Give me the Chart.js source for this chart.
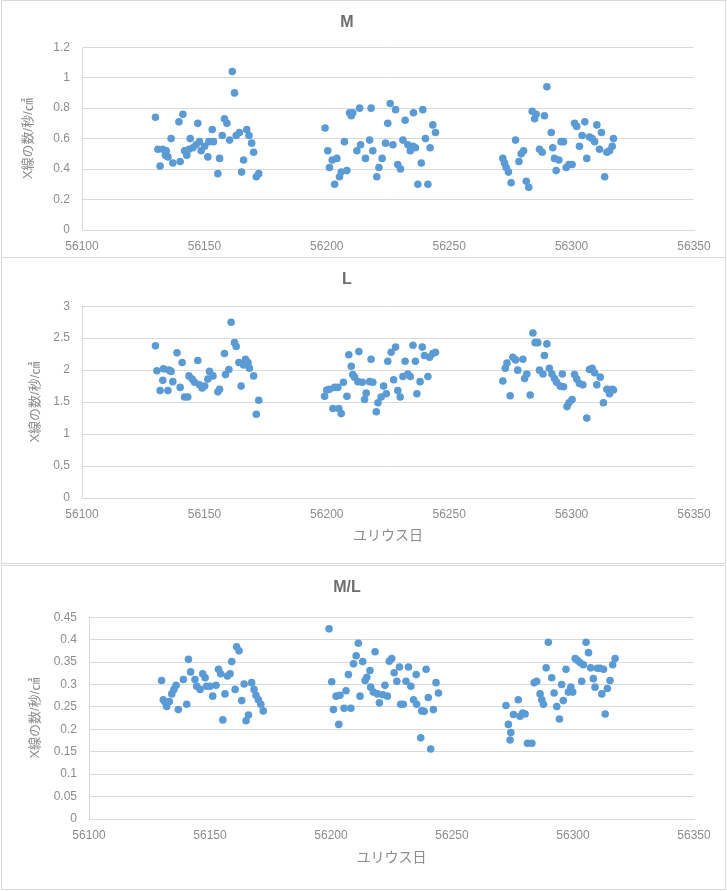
<!DOCTYPE html>
<html>
<head>
<meta charset="utf-8">
<title>M / L / M/L</title>
<script src="https://cdn.jsdelivr.net/npm/chart.js@4.4.0/dist/chart.umd.min.js"></script>
<style>
  body { margin: 0; background: #fff; }
  #page { position: relative; width: 727px; height: 891px; overflow: hidden; }
  .frame { position: absolute; left: 0; width: 727px; }
  .panel { position: absolute; left: 1px; width: 725px; border: 1px solid #d9d9d9; box-sizing: border-box; pointer-events: none; }
</style>
</head>
<body>
<div id="page">
  <div class="frame" style="top:0;height:258px"><canvas id="chartM"></canvas></div>
  <div class="frame" style="top:257px;height:307px"><canvas id="chartL"></canvas></div>
  <div class="frame" style="top:565px;height:325px"><canvas id="chartRatio"></canvas></div>
  <div class="panel" style="top:0;height:258px"></div>
  <div class="panel" style="top:257px;height:307px"></div>
  <div class="panel" style="top:565px;height:325px"></div>
</div>
<script>
// ---- data ----
var xTicks = [56100, 56150, 56200, 56250, 56300, 56350];
var mTicks = [0, 0.2, 0.4, 0.6, 0.8, 1, 1.2];
var lTicks = [0, 0.5, 1, 1.5, 2, 2.5, 3];
var ratioTicks = [0, 0.05, 0.1, 0.15, 0.2, 0.25, 0.3, 0.35, 0.4, 0.45];

var mDays = [
  56130.0, 56131.9, 56131.0, 56133.0, 56134.4, 56134.1, 56135.1, 56136.4, 56137.1, 56139.6, 56140.1,
  56141.2, 56141.9, 56142.8, 56144.2, 56143.7, 56145.3, 56147.3, 56146.6, 56148.0, 56148.7, 56150.1,
  56151.4, 56151.8, 56153.2, 56153.7, 56155.5, 56156.2, 56157.3, 56158.2, 56159.2, 56160.3, 56161.4,
  56162.3, 56163.0, 56164.3, 56165.2, 56166.0, 56167.3, 56168.2, 56169.3, 56170.1, 56171.2, 56172.2,
  56199.3, 56200.4, 56201.1, 56202.2, 56203.2, 56204.1, 56205.2, 56205.9, 56207.2, 56208.2, 56209.3,
  56210.0, 56210.6, 56213.4, 56212.3, 56213.8, 56215.8, 56217.5, 56218.1, 56218.8, 56220.4, 56221.3,
  56222.6, 56224.0, 56224.9, 56225.9, 56227.0, 56228.1, 56229.0, 56230.1, 56231.1, 56232.0, 56233.1,
  56234.1, 56235.2, 56236.2, 56235.4, 56237.2, 56238.6, 56239.2, 56240.3, 56241.3, 56242.2, 56243.3,
  56244.4,
  56271.9, 56272.6, 56273.3, 56274.2, 56275.3, 56277.1, 56278.5, 56279.4, 56280.4, 56281.5, 56282.5,
  56283.9, 56284.9, 56285.5, 56286.9, 56288.0, 56288.9, 56289.9, 56291.7, 56292.3, 56293.0, 56293.7,
  56294.8, 56295.7, 56296.7, 56297.8, 56298.9, 56300.2, 56301.2, 56302.1, 56303.2, 56304.3, 56305.4,
  56306.2, 56307.3, 56308.4, 56309.4, 56310.3, 56311.4, 56312.2, 56313.5, 56314.4, 56315.5, 56316.6,
  56317.1
];
var mValues = [
  0.74, 0.42, 0.53, 0.53, 0.52, 0.49, 0.48, 0.60, 0.44, 0.71, 0.45,
  0.76, 0.52, 0.49, 0.60, 0.53, 0.54, 0.70, 0.56, 0.58, 0.52, 0.55,
  0.48, 0.58, 0.66, 0.58, 0.37, 0.47, 0.62, 0.73, 0.70, 0.59, 1.04,
  0.90, 0.62, 0.64, 0.38, 0.46, 0.66, 0.62, 0.57, 0.51, 0.35, 0.37,
  0.67, 0.52, 0.41, 0.46, 0.30, 0.47, 0.35, 0.38, 0.58, 0.39, 0.77,
  0.75, 0.77, 0.80, 0.52, 0.56, 0.47, 0.59, 0.80, 0.52, 0.35, 0.41,
  0.47, 0.57, 0.70, 0.83, 0.56, 0.79, 0.43, 0.40, 0.59, 0.72, 0.56,
  0.52, 0.55, 0.54, 0.77, 0.30, 0.44, 0.79, 0.60, 0.30, 0.54, 0.69,
  0.64,
  0.47, 0.44, 0.41, 0.38, 0.31, 0.59, 0.45, 0.50, 0.52, 0.32, 0.28,
  0.78, 0.73, 0.76, 0.53, 0.51, 0.75, 0.94, 0.64, 0.54, 0.47, 0.39,
  0.46, 0.58, 0.58, 0.41, 0.43, 0.43, 0.70, 0.68, 0.55, 0.62, 0.71,
  0.47, 0.61, 0.60, 0.58, 0.69, 0.53, 0.64, 0.35, 0.51, 0.52, 0.55,
  0.60
];

var lDays = [
  56130.0, 56130.6, 56131.9, 56133.0, 56133.3, 56135.1, 56135.5, 56136.4, 56137.1, 56138.8, 56140.1,
  56140.9, 56141.9, 56143.2, 56143.7, 56145.0, 56146.0, 56147.3, 56148.0, 56149.1, 56150.1, 56151.4,
  56152.1, 56153.5, 56155.5, 56156.2, 56158.2, 56158.6, 56160.0, 56160.9, 56162.3, 56163.0, 56164.1,
  56165.0, 56166.0, 56166.8, 56167.8, 56168.4, 56170.1, 56171.2, 56172.2,
  56199.1, 56200.0, 56201.1, 56202.5, 56203.2, 56204.5, 56204.9, 56205.9, 56206.8, 56208.2, 56209.0,
  56210.0, 56210.6, 56211.3, 56213.1, 56212.7, 56214.5, 56215.4, 56216.1, 56217.5, 56218.1, 56218.8,
  56220.2, 56220.9, 56222.2, 56223.2, 56224.3, 56224.9, 56226.3, 56227.3, 56228.1, 56229.0, 56230.0,
  56231.1, 56232.0, 56233.1, 56234.1, 56235.2, 56236.2, 56236.8, 56238.1, 56239.0, 56239.9, 56241.3,
  56242.0, 56243.3, 56244.4,
  56271.9, 56272.9, 56273.6, 56274.9, 56276.0, 56277.1, 56278.0, 56280.1, 56280.8, 56281.7, 56283.1,
  56284.2, 56285.1, 56286.2, 56286.9, 56288.3, 56288.9, 56289.9, 56290.9, 56292.0, 56293.0, 56293.9,
  56295.3, 56296.2, 56296.7, 56298.1, 56298.9, 56300.2, 56301.2, 56302.1, 56303.2, 56304.6, 56306.2,
  56307.3, 56308.4, 56309.4, 56310.3, 56311.7, 56313.0, 56314.4, 56315.5, 56316.6, 56317.1
];
var lValues = [
  2.38, 1.99, 1.68, 1.84, 2.02, 1.68, 2.00, 1.98, 1.82, 2.27, 1.73,
  2.12, 1.58, 1.58, 1.91, 1.86, 1.81, 2.15, 1.77, 1.72, 1.75, 1.86,
  1.98, 1.91, 1.66, 1.70, 2.26, 1.93, 2.01, 2.75, 2.43, 2.37, 2.12,
  1.75, 2.08, 2.17, 2.12, 2.03, 1.91, 1.31, 1.53,
  1.59, 1.69, 1.70, 1.40, 1.73, 1.73, 1.40, 1.32, 1.81, 1.59, 2.24,
  2.06, 1.93, 1.89, 2.29, 1.82, 1.81, 1.54, 1.64, 1.82, 2.17, 1.81,
  1.35, 1.49, 1.58, 1.75, 1.63, 2.14, 2.28, 1.85, 2.36, 1.68, 1.58,
  1.90, 2.14, 1.94, 1.90, 2.39, 2.14, 1.63, 1.82, 2.36, 2.23, 1.90,
  2.20, 2.26, 2.28,
  1.83, 2.03, 2.11, 1.60, 2.20, 2.16, 2.00, 2.17, 1.87, 1.94, 1.61,
  2.58, 2.43, 2.43, 2.00, 1.94, 2.23, 2.41, 2.03, 1.94, 1.87, 1.81,
  1.75, 1.94, 1.74, 1.43, 1.49, 1.54, 1.93, 1.86, 1.79, 1.77, 1.25,
  2.01, 2.03, 1.96, 1.77, 1.89, 1.49, 1.70, 1.63, 1.70, 1.69
];

var ratioDays = [
  56130.0, 56130.7, 56131.4, 56132.1, 56133.2, 56134.2, 56135.1, 56136.0, 56136.9, 56139.0, 56140.4,
  56141.1, 56142.0, 56143.8, 56144.5, 56145.9, 56147.0, 56148.0, 56148.6, 56150.0, 56151.1, 56152.5,
  56153.5, 56154.4, 56155.3, 56156.2, 56157.2, 56158.3, 56159.0, 56160.4, 56161.0, 56162.0, 56163.1,
  56164.1, 56164.9, 56165.9, 56167.2, 56168.2, 56169.0, 56170.0, 56171.0, 56172.0,
  56199.2, 56200.3, 56201.0, 56202.1, 56203.2, 56203.7, 56205.4, 56206.2, 56207.2, 56208.2, 56209.3,
  56210.4, 56211.3, 56212.0, 56213.1, 56214.1, 56214.8, 56216.1, 56216.4, 56217.5, 56218.2, 56219.2,
  56220.0, 56221.4, 56222.3, 56223.3, 56224.1, 56225.1, 56226.1, 56227.2, 56228.3, 56228.8, 56229.9,
  56231.0, 56232.0, 56233.0, 56234.1, 56235.2, 56235.4, 56237.1, 56237.5, 56238.5, 56239.3, 56240.2,
  56241.2, 56242.3, 56243.4, 56244.4,
  56272.3, 56273.3, 56274.3, 56274.0, 56275.4, 56277.4, 56278.1, 56279.2, 56280.2, 56281.2, 56283.0,
  56284.0, 56285.0, 56286.4, 56287.1, 56287.8, 56288.9, 56289.8, 56291.2, 56292.2, 56293.3, 56294.4,
  56295.3, 56296.0, 56297.1, 56298.1, 56299.1, 56299.9, 56300.9, 56301.8, 56302.9, 56303.6, 56304.3,
  56305.4, 56306.4, 56307.3, 56308.4, 56309.1, 56310.1, 56311.2, 56311.9, 56312.6, 56313.3, 56314.2,
  56315.3, 56316.4, 56317.4
];
var ratioValues = [
  0.309, 0.266, 0.261, 0.251, 0.262, 0.279, 0.289, 0.298, 0.244, 0.311, 0.256,
  0.356, 0.328, 0.311, 0.296, 0.289, 0.324, 0.315, 0.296, 0.296, 0.274, 0.298,
  0.334, 0.324, 0.221, 0.279, 0.319, 0.324, 0.351, 0.289, 0.384, 0.375, 0.264,
  0.301, 0.219, 0.232, 0.304, 0.289, 0.276, 0.266, 0.256, 0.241,
  0.424, 0.306, 0.244, 0.274, 0.211, 0.276, 0.247, 0.286, 0.322, 0.247, 0.346,
  0.364, 0.392, 0.274, 0.351, 0.309, 0.316, 0.331, 0.294, 0.283, 0.373, 0.279,
  0.259, 0.277, 0.298, 0.274, 0.352, 0.358, 0.326, 0.307, 0.339, 0.256, 0.256,
  0.307, 0.339, 0.296, 0.266, 0.322, 0.256, 0.181, 0.241, 0.240, 0.334, 0.271,
  0.156, 0.244, 0.304, 0.281,
  0.253, 0.211, 0.193, 0.176, 0.233, 0.266, 0.229, 0.236, 0.234, 0.169, 0.169,
  0.304, 0.307, 0.279, 0.266, 0.256, 0.337, 0.394, 0.315, 0.281, 0.251, 0.223,
  0.300, 0.264, 0.334, 0.283, 0.294, 0.283, 0.358, 0.354, 0.349, 0.307, 0.344,
  0.394, 0.371, 0.337, 0.313, 0.294, 0.336, 0.336, 0.279, 0.334, 0.234, 0.291,
  0.309, 0.344, 0.358
];

var X_TITLE = 'ユリウス日';
var Y_TITLE = 'X線の数/秒/㎠';

// ---- drawing ----
var BLUE = '#5b9bd5';
var GRID = '#d9d9d9';
var TEXT = '#8c8c8c';
var TITLE = '#6e6e6e';
Chart.defaults.font.family = "'Liberation Sans', 'Noto Sans CJK JP', sans-serif";

function toPoints(days, values) {
  var pts = [];
  for (var i = 0; i < days.length; i++) {
    pts.push({ x: days[i], y: values[i] });
  }
  return pts;
}

// replace the generated ticks with the ones from the lists above
function useTicks(list) {
  return function(scale) {
    scale.ticks = list.map(function(v) { return { value: v }; });
  };
}

function drawChart(id, cfg) {
  var ctx = document.getElementById(id).getContext('2d');
  return new Chart(ctx, {
    type: 'scatter',
    data: {
      datasets: [{
        data: toPoints(cfg.days, cfg.values),
        backgroundColor: BLUE,
        borderColor: BLUE,
        borderWidth: 0,
        pointRadius: 3.8
      }]
    },
    options: {
      responsive: true,
      maintainAspectRatio: false,
      animation: false,
      layout: { padding: { left: 0, right: 33, top: 0, bottom: 0 } },
      plugins: {
        legend: { display: false },
        tooltip: { enabled: false },
        title: {
          display: true,
          text: cfg.title,
          color: TITLE,
          font: { size: 16, weight: 'bold' },
          padding: { top: 13, bottom: cfg.titleBottom }
        }
      },
      scales: {
        x: {
          type: 'linear',
          min: xTicks[0],
          max: xTicks[xTicks.length - 1],
          afterBuildTicks: useTicks(xTicks),
          afterFit: function(s) { s.height = cfg.xHeight; },
          grid: { display: false, drawTicks: false },
          border: { display: true, color: GRID },
          ticks: { color: TEXT, font: { size: 12 }, padding: 9, maxRotation: 0,
                    callback: function(v) { return String(v); } },
          title: cfg.xTitle ? { display: true, text: cfg.xTitle, color: TEXT,
                    font: { size: 14 }, padding: { top: 0, bottom: cfg.xTitleBottom } } : { display: false }
        },
        y: {
          min: cfg.yTicks[0],
          max: cfg.yTicks[cfg.yTicks.length - 1],
          afterBuildTicks: useTicks(cfg.yTicks),
          afterFit: function(s) { s.width = cfg.yWidth; },
          grid: { color: GRID, drawTicks: false },
          border: { display: true, color: GRID },
          ticks: { color: TEXT, font: { size: 12 }, padding: 12,
                   callback: function(v) { return String(Math.round(v * 100) / 100); } },
          title: { display: true, text: Y_TITLE, color: TEXT, font: { size: 13 },
                   padding: { top: cfg.yTitlePad, bottom: 0 } }
        }
      }
    }
  });
}

drawChart('chartM', {
  title: 'M', days: mDays, values: mValues, yTicks: mTicks,
  titleBottom: 15, xHeight: 28, yWidth: 82, yTitlePad: 21
});
drawChart('chartL', {
  title: 'L', days: lDays, values: lValues, yTicks: lTicks,
  titleBottom: 17, xHeight: 66, yWidth: 82, yTitlePad: 28,
  xTitle: X_TITLE, xTitleBottom: 19
});
drawChart('chartRatio', {
  title: 'M/L', days: ratioDays, values: ratioValues, yTicks: ratioTicks,
  titleBottom: 20, xHeight: 71, yWidth: 89, yTitlePad: 28,
  xTitle: X_TITLE, xTitleBottom: 23
});
</script>
</body>
</html>
